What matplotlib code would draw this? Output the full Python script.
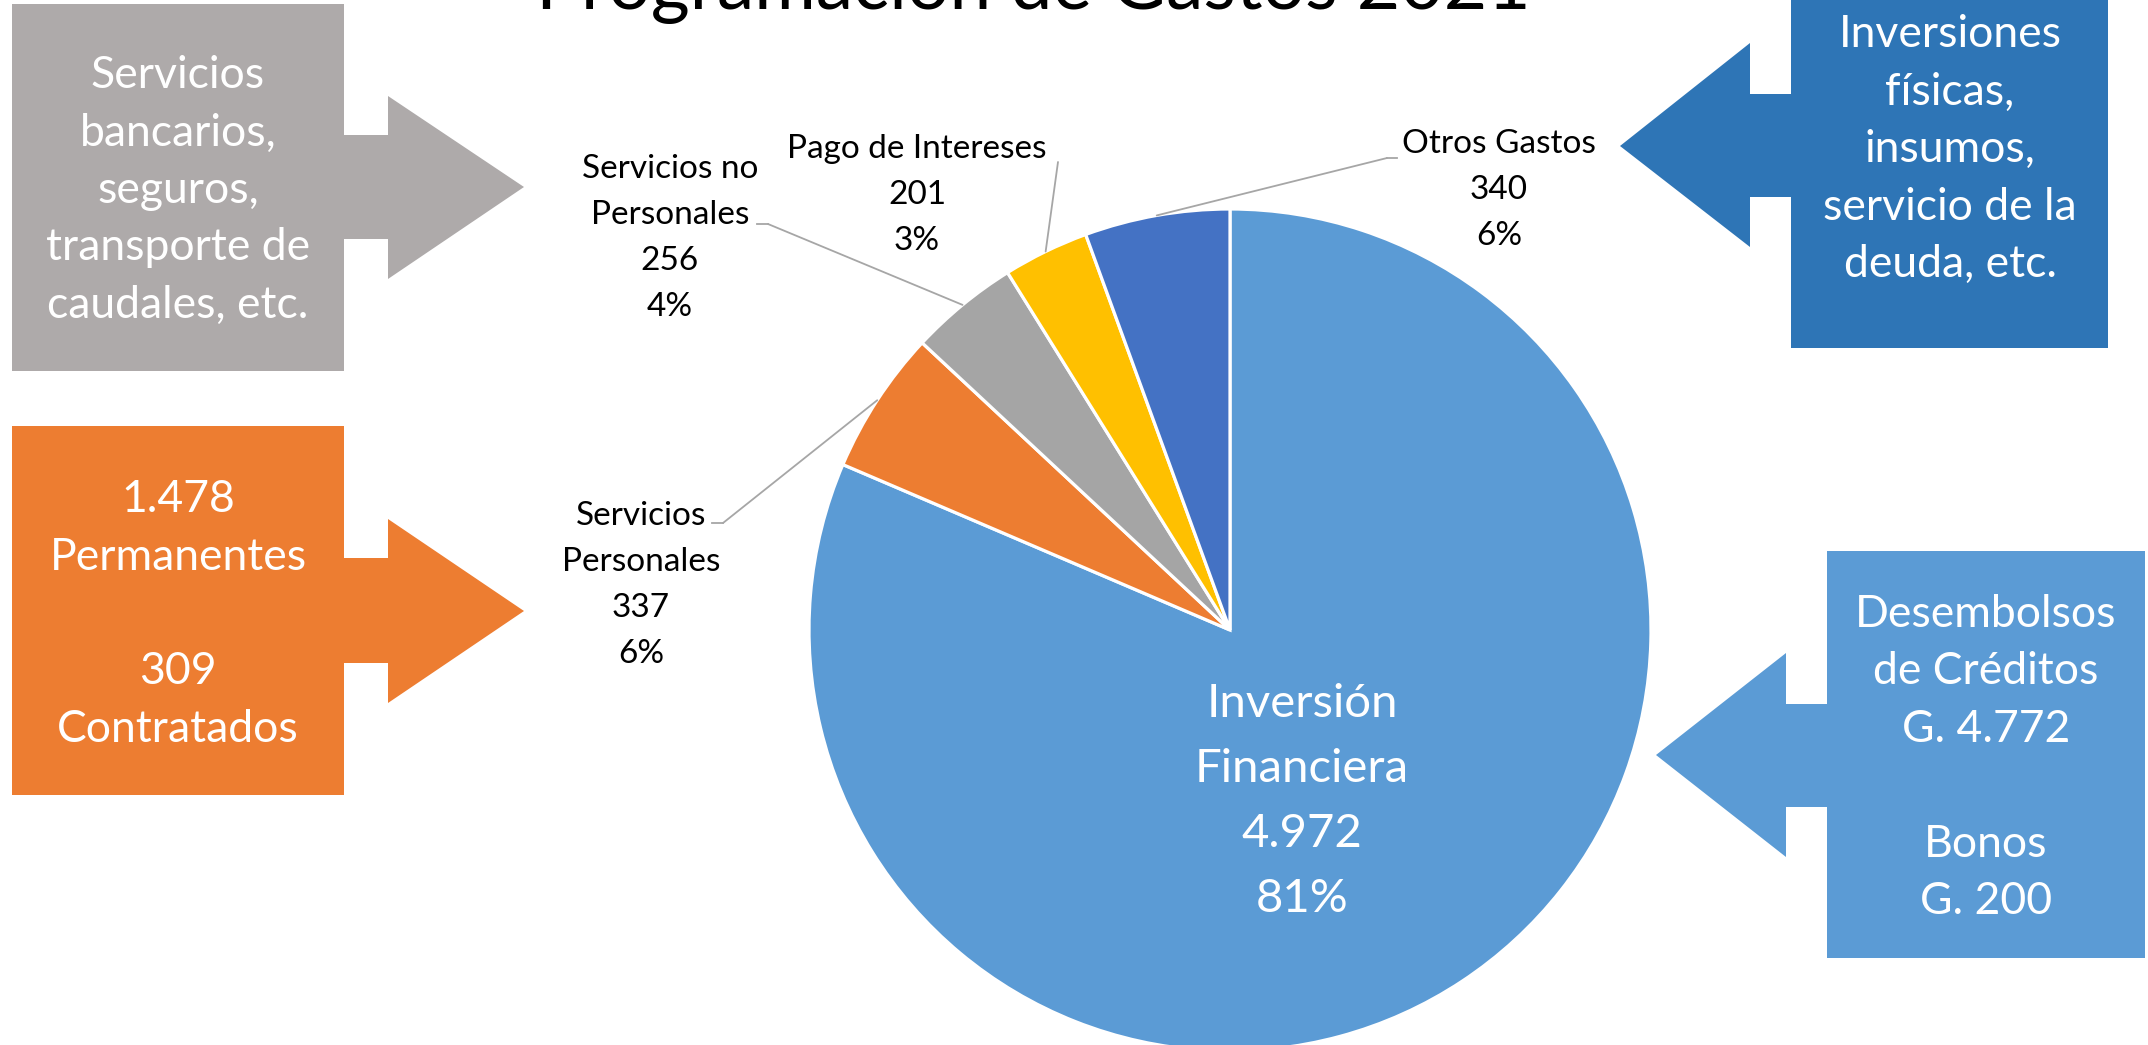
import matplotlib
matplotlib.use("Agg")
import matplotlib.pyplot as plt
from matplotlib.patches import Polygon, ConnectionPatch
from matplotlib.lines import Line2D
import numpy as np

plt.rcParams['font.family'] = ['Lato', 'DejaVu Sans']

# ---------------- data ----------------
title = "Programación de Gastos 2021"
categories = ["Inversión\nFinanciera", "Servicios\nPersonales", "Servicios no\nPersonales",
              "Pago de Intereses", "Otros Gastos"]
values = [4972, 337, 256, 201, 340]
colors = ["#5B9BD5", "#ED7D31", "#A5A5A5", "#FFC000", "#4472C4"]

note_gray = ["Servicios", "bancarios,", "seguros,", "transporte de", "caudales, etc."]
note_orange = ["1.478", "Permanentes", "", "309", "Contratados"]
note_darkblue = ["Inversiones", "físicas,", "insumos,", "servicio de la", "deuda, etc."]
note_lightblue = ["Desembolsos", "de Créditos", "G. 4.772", "", "Bonos", "G. 200"]

# ---------------- layout ----------------
W, H, DPI = 2148, 1045, 100
fig = plt.figure(figsize=(W / DPI, H / DPI), dpi=DPI)
fig.patch.set_facecolor("white")

cx, cy, r = 1230, 630, 421
axp = fig.add_axes([(cx - r) / W, (H - cy - r) / H, 2 * r / W, 2 * r / H])
axp.set_zorder(1)
wedges, _ = axp.pie(values, colors=colors, startangle=90, counterclock=False,
                    radius=1.0, wedgeprops=dict(edgecolor="white", linewidth=2.3))
axp.set_xlim(-1, 1)
axp.set_ylim(-1, 1)
axp.set_aspect("equal")
axp.axis("off")

ov = fig.add_axes([0, 0, 1, 1])
ov.set_zorder(2)
ov.patch.set_alpha(0)
ov.set_xlim(0, W)
ov.set_ylim(H, 0)
ov.axis("off")

total = sum(values)


def fmt(v):
    return f"{v:,}".replace(",", ".")


def put_lines(x, y0, step, lines, size, color):
    for k, s in enumerate(lines):
        if s:
            ov.text(x, y0 + k * step, s, ha="center", va="baseline",
                    fontsize=size, color=color)


# title (cut at the top as in the original)
ov.text(1033, 9, title, ha="center", va="baseline", fontsize=54, color="black")

# pie labels
label_pos = {  # x, first baseline, line step
    0: (1302, 717, 65),
    1: (641, 525, 46),
    2: (670, 178, 46),
    3: (917, 158, 46),
    4: (1499, 153, 46),
}
leaders = {  # anchor near text, elbow
    1: ((712, 523), (723, 523)),
    2: ((757, 224), (768, 224)),
    3: ((1058, 162), (1058, 162)),
    4: ((1397, 158), (1387, 158)),
}
for i, (cat, v, w) in enumerate(zip(categories, values, wedges)):
    pct = round(v / total * 100)
    lines = cat.split("\n") + [fmt(v), f"{pct}%"]
    x, y0, step = label_pos[i]
    if i == 0:
        put_lines(x, y0, step, lines, 34, "white")
    else:
        put_lines(x, y0, step, lines, 24, "black")
        ang = np.deg2rad((w.theta1 + w.theta2) / 2)
        px, py = np.cos(ang), np.sin(ang)
        (ax_, ay_), (ex, ey) = leaders[i]
        ov.add_line(Line2D([ax_, ex], [ay_, ey], color="#A6A6A6", lw=1.3))
        con = ConnectionPatch(xyA=(ex, ey), coordsA=ov.transData,
                              xyB=(px, py), coordsB=axp.transData,
                              color="#A6A6A6", lw=1.3, zorder=3)
        fig.add_artist(con)


# callout shapes
def callout_right(x0, x1, y0, y1, sx1, sy0, sy1, hy0, hy1, tipx, tipy, color):
    pts = [(x0, y0), (x1, y0), (x1, sy0), (sx1, sy0), (sx1, hy0), (tipx, tipy),
           (sx1, hy1), (sx1, sy1), (x1, sy1), (x1, y1), (x0, y1)]
    ov.add_patch(Polygon(pts, closed=True, facecolor=color, edgecolor="none"))


def callout_left(x0, x1, y0, y1, sx0, sy0, sy1, hy0, hy1, tipx, tipy, color):
    pts = [(x1, y0), (x0, y0), (x0, sy0), (sx0, sy0), (sx0, hy0), (tipx, tipy),
           (sx0, hy1), (sx0, sy1), (x0, sy1), (x0, y1), (x1, y1)]
    ov.add_patch(Polygon(pts, closed=True, facecolor=color, edgecolor="none"))


callout_right(12, 344, 4, 371, 388, 135, 239, 96, 279, 524, 187, "#AEAAAA")
callout_right(12, 344, 426, 795, 388, 558, 663, 519, 703, 524, 611, "#ED7D31")
callout_left(1791, 2108, -2, 348, 1750, 94, 197, 43, 247, 1620, 146, "#2E75B6")
callout_left(1827, 2145, 551, 958, 1786, 704, 807, 653, 857, 1656, 755, "#5B9BD5")

put_lines(178, 88, 57.5, note_gray, 32, "white")
put_lines(178, 512, 57.5, note_orange, 32, "white")
put_lines(1950, 47, 57.5, note_darkblue, 32, "white")
put_lines(1986, 627, 57.5, note_lightblue, 32, "white")

fig.savefig("out.png", dpi=DPI, facecolor="white")
